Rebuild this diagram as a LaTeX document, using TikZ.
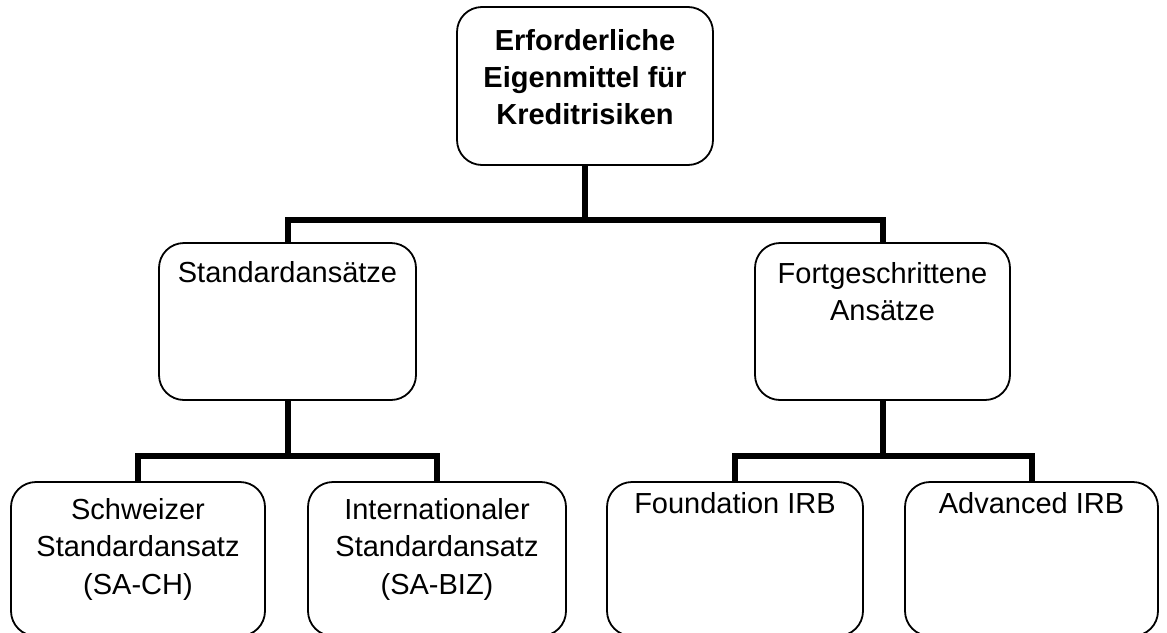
\documentclass[tikz,border=0pt]{standalone}
\usepackage{fontspec}
\setmainfont{Liberation Sans}
\begin{document}
\begin{tikzpicture}[x=1pt,y=-1pt,
  box/.style={draw=black, line width=1.8pt, rounded corners=25pt, minimum width=255pt, inner sep=0pt},
  toptxt/.style={anchor=north, align=center, inner sep=0pt, font=\fontsize{29pt}{37.5pt}\selectfont},
  conn/.style={draw=black, line width=6pt, line join=miter, line cap=butt}]
\useasboundingbox (0,0) rectangle (1167,632);
\fill[white] (0,0) rectangle (1167,632);
% boxes
\node[box, minimum width=256pt, minimum height=158pt] (top) at (585,86) {};
\node[box, minimum width=257pt, minimum height=157pt] (sa) at (287.5,321.5) {};
\node[box, minimum width=255pt, minimum height=157pt] (fa) at (882.5,321.5) {};
\node[box, minimum width=254pt, minimum height=154pt] (b1) at (138,559) {};
\node[box, minimum width=258pt, minimum height=154pt] (b2) at (437,559) {};
\node[box, minimum width=256pt, minimum height=154pt] (b3) at (735,559) {};
\node[box, minimum width=253pt, minimum height=154pt] (b4) at (1031.5,559) {};
% texts
\node[toptxt, font=\fontsize{29pt}{37pt}\selectfont\bfseries] (ttop) at (585,25) {\rule{0pt}{25pt}Erforderliche\\Eigenmittel für\\Kreditrisiken};
\node[toptxt] (tsa) at (287.5,257) {\rule{0pt}{25pt}Standardansätze};
\node[toptxt] (tfa) at (882.5,258) {\rule{0pt}{25pt}Fortgeschrittene\\Ansätze};
\node[toptxt] (tb1) at (138,494) {\rule{0pt}{25pt}Schweizer\\Standardansatz\\(SA-CH)};
\node[toptxt] (tb2) at (437,494) {\rule{0pt}{25pt}Internationaler\\Standardansatz\\(SA-BIZ)};
\node[toptxt] (tb3) at (735,488) {\rule{0pt}{25pt}Foundation IRB};
\node[toptxt] (tb4) at (1031.5,488) {\rule{0pt}{25pt}Advanced IRB};
% connectors
\coordinate (j0) at (585,220);
\coordinate (j1) at (287.5,456);
\coordinate (j2) at (882.5,456);
\draw[conn] (top.south) -- (j0);
\draw[conn] (sa.north) |- (j0) -| (fa.north);
\draw[conn] (sa.south) -- (j1);
\draw[conn] (b1.north) |- (j1) -| (b2.north);
\draw[conn] (fa.south) -- (j2);
\draw[conn] (b3.north) |- (j2) -| (b4.north);
\end{tikzpicture}
\end{document}
